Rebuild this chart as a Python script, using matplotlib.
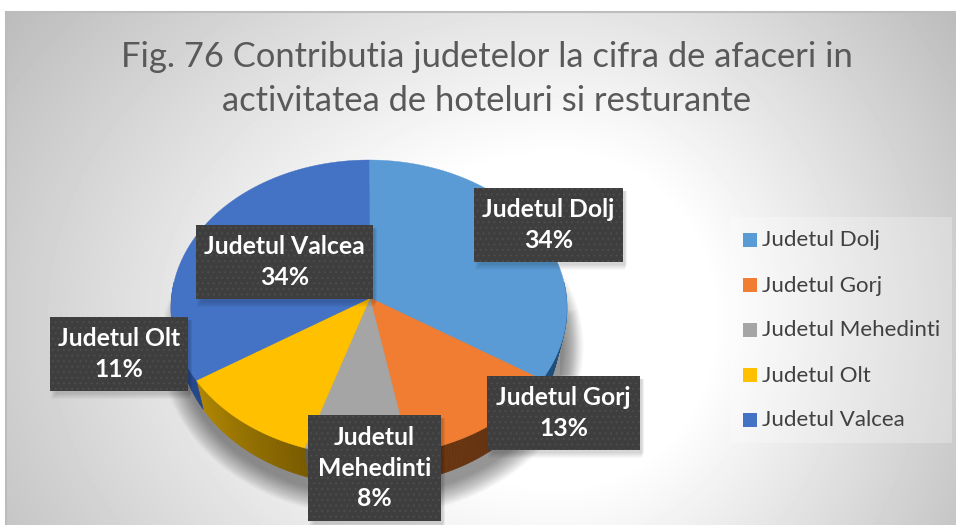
import numpy as np
import matplotlib
matplotlib.use('Agg')
import matplotlib.pyplot as plt
from matplotlib.patches import Rectangle, Ellipse, Polygon
from matplotlib.colors import to_rgb

title_lines = ['Fig. 76 Contributia judetelor la cifra de afaceri in', 'activitatea de hoteluri si resturante']
categories = ['Judetul Dolj', 'Judetul Gorj', 'Judetul Mehedinti', 'Judetul Olt', 'Judetul Valcea']
values = [34, 13, 8, 11, 34]
percent_labels = ['34%', '13%', '8%', '11%', '34%']
label_lines = ['Judetul Dolj', 'Judetul Gorj', 'Judetul\nMehedinti', 'Judetul Olt', 'Judetul Valcea']
colors = ['#5B9BD5', '#F07D31', '#A5A5A5', '#FFC000', '#4472C4']
wall_left = ['#1F4E79', '#6E3812', '#5A5A5A', '#B38800', '#2F5597']
wall_right = ['#1F4E79', '#5C2E0E', '#4A4A4A', '#7A5C00', '#24468A']

W, H = 956, 525
plt.rcParams['font.family'] = ['Lato', 'DejaVu Sans']
plt.rcParams['hatch.linewidth'] = 0.8

fig = plt.figure(figsize=(W / 100, H / 100), dpi=100, facecolor='white')
ax = fig.add_axes([0, 0, 1, 1])
ax.axis('off')

# grey background of the chart area
yy, xx = np.mgrid[12:H, 6:W]
dx = (xx - 560) / np.where(xx > 560, 400.0, 560.0)
t = np.sqrt(dx ** 2 + ((yy - 320) / 430.0) ** 2)
shade = 255 - 80 * np.clip(t - 0.38, 0, None)
ax.imshow(shade, cmap='gray', vmin=0, vmax=255, extent=(6, W, H, 12), aspect='auto', zorder=0)
ax.set_xlim(0, W)
ax.set_ylim(H, 0)
ax.plot([6, W], [12, 12], color='#bdbdbd', lw=1.5, zorder=1)
ax.plot([6.5, 6.5], [12, H], color='#bcbcbc', lw=1.5, zorder=1)

# geometry of the tilted pie, in pixels
cx, cy, rx, ry = 369, 308, 198, 148
apex_x, apex_y = 370, 298
bottom_cy, bottom_rx = 337, 190


def rim_angle(share):
    # ray from the apex, where it meets the top ellipse
    a = np.radians(share * 360)
    ux, uy = 198 * np.sin(a), -148 * np.cos(a)
    ox, oy = (apex_x - cx) / rx, (apex_y - cy) / ry
    ux, uy = ux / rx, uy / ry
    p = ux * ux + uy * uy
    q = 2 * (ox * ux + oy * uy)
    r = ox * ox + oy * oy - 1
    s = (-q + np.sqrt(q * q - 4 * p * r)) / (2 * p)
    deg = np.degrees(np.arctan2(ox + s * ux, -(oy + s * uy)))
    return deg % 360


shares = np.cumsum(values) / np.sum(values)
edges = [0.0] + [rim_angle(v) for v in shares[:-1]] + [360.0]

# soft shadow under the pie
for i in range(24):
    grow = (24 - i) * 0.9
    ax.add_patch(Ellipse((cx + 3, bottom_cy + 10), 2 * (bottom_rx + grow), 2 * (ry + grow), color='black', alpha=0.018, lw=0, zorder=2))
for i in range(6):
    ax.add_patch(Rectangle((560, 310 + i), 18 - i * 2, 65 - i, color='black', alpha=0.012, lw=0, zorder=2))

# side walls
for k in range(len(values)):
    start = max(edges[k], 80)
    stop = min(edges[k + 1], 280)
    if stop <= start:
        continue
    angles = np.arange(start, stop + 1, 1.0)
    angles = np.append(angles[angles < stop], stop)
    for n in range(len(angles) - 1):
        mix = (stop - angles[n]) / (stop - start)
        col = (1 - mix) * np.array(to_rgb(wall_left[k])) + mix * np.array(to_rgb(wall_right[k]))
        a0, a1 = np.radians(angles[n]), np.radians(angles[n + 1])
        xs = [cx + rx * np.sin(a0), cx + rx * np.sin(a1), cx + bottom_rx * np.sin(a1), cx + bottom_rx * np.sin(a0)]
        ys = [cy - ry * np.cos(a0), cy - ry * np.cos(a1), bottom_cy - ry * np.cos(a1), bottom_cy - ry * np.cos(a0)]
        ax.add_patch(Polygon(list(zip(xs, ys)), facecolor=col, edgecolor=col, lw=0.4, zorder=3))

# top face
for k in range(len(values)):
    angles = np.radians(np.linspace(edges[k], edges[k + 1], 90))
    xs = np.concatenate([[apex_x], cx + rx * np.sin(angles)])
    ys = np.concatenate([[apex_y], cy - ry * np.cos(angles)])
    ax.add_patch(Polygon(list(zip(xs, ys)), facecolor=colors[k], edgecolor=colors[k], lw=0.3, zorder=4))

ax.text(487, 57, title_lines[0], ha='center', va='center', fontsize=24.8, color='#595959', zorder=6)
ax.text(487, 101, title_lines[1], ha='center', va='center', fontsize=24.8, color='#595959', zorder=6)

# legend panel
ax.add_patch(Rectangle((731, 217), 221, 226, facecolor='white', alpha=0.25, lw=0, zorder=5))
legend_y = [240, 285, 330, 375, 420]
for name, col, ly in zip(categories, colors, legend_y):
    ax.add_patch(Rectangle((743, ly - 7), 14, 14, facecolor=col, lw=0, zorder=6))
    ax.text(762, ly + 0.5, name, ha='left', va='center', fontsize=16, color='#404040', zorder=6)

# data labels: x0, y0, x1, y1 of each box
boxes = [(474, 188, 623, 262), (487, 376, 640, 450), (308, 415, 441, 521), (50, 317, 188, 391), (196, 225, 373, 299)]
for text, pct, (x0, y0, x1, y1) in zip(label_lines, percent_labels, boxes):
    for s in range(6):
        ax.add_patch(Rectangle((x0 + 1 + s, y0 + 3), x1 - x0 + 1 - s * 0.6, y1 - y0 + 5 - s, color='black', alpha=0.028, lw=0, zorder=7))
    ax.add_patch(Rectangle((x0, y0), x1 - x0, y1 - y0, facecolor='#3E3E3E', edgecolor='#4C4C4C', hatch='...', lw=0, zorder=8))
    ax.text((x0 + x1) / 2, (y0 + y1) / 2, text + '\n' + pct, ha='center', va='center', fontsize=17.8,
            fontweight='bold', color='white', linespacing=1.38, zorder=9)

fig.savefig('out.png', dpi=100)
